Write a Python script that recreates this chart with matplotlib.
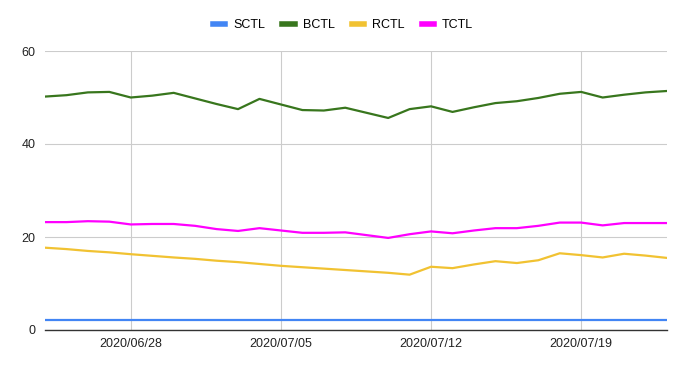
import numpy as np
import pandas as pd
import matplotlib
matplotlib.use("Agg")
import matplotlib.pyplot as plt
import matplotlib.dates as mdates
from matplotlib.lines import Line2D

plt.rcParams['font.family'] = ['Liberation Sans', 'DejaVu Sans']

# daily values 2020/06/24 .. 2020/07/23
dates = pd.date_range("2020-06-24", "2020-07-23", freq="D")

sctl = [2.1] * 30
bctl = [50.2, 50.5, 51.1, 51.2, 50.0, 50.4, 51.0, 49.8, 48.6, 47.5,
        49.7, 48.5, 47.3, 47.2, 47.8, 46.7, 45.6, 47.5, 48.1, 46.9,
        47.9, 48.8, 49.2, 49.9, 50.8, 51.2, 50.0, 50.6, 51.1, 51.4]
rctl = [17.7, 17.4, 17.0, 16.7, 16.3, 15.95, 15.6, 15.3, 14.9, 14.6,
        14.2, 13.8, 13.5, 13.2, 12.9, 12.6, 12.3, 11.9, 13.6, 13.3,
        14.1, 14.8, 14.4, 15.0, 16.5, 16.1, 15.6, 16.4, 16.0, 15.5]
tctl = [23.2, 23.2, 23.4, 23.3, 22.7, 22.8, 22.8, 22.4, 21.7, 21.3,
        21.9, 21.4, 20.9, 20.9, 21.0, 20.4, 19.8, 20.6, 21.2, 20.8,
        21.4, 21.9, 21.9, 22.4, 23.1, 23.1, 22.5, 23.0, 23.0, 23.0]

series = [("SCTL", sctl, "#4285F4"), ("BCTL", bctl, "#38761D"),
          ("RCTL", rctl, "#F1C232"), ("TCTL", tctl, "#FF00FF")]

fig = plt.figure(figsize=(6.86, 3.69), dpi=100)
ax = fig.add_axes([45 / 686, 1 - 330 / 369, 622 / 686, 279 / 369])

for name, vals, col in series:
    ax.plot(dates, vals, color=col, lw=1.6, solid_joinstyle='round')

ax.set_xlim(dates[0], dates[-1])
ax.set_ylim(0, 60)
ax.set_yticks([0, 20, 40, 60])
ticks = pd.to_datetime(["2020-06-28", "2020-07-05", "2020-07-12", "2020-07-19"])
ax.set_xticks(ticks)
ax.xaxis.set_major_formatter(mdates.DateFormatter("%Y/%m/%d"))

ax.grid(True, color="#cccccc", lw=0.8)
ax.set_axisbelow(True)
for s in ["top", "right", "left"]:
    ax.spines[s].set_visible(False)
ax.spines["bottom"].set_color("#333333")
ax.spines["bottom"].set_linewidth(1)
ax.tick_params(length=0, labelsize=9, colors="#222222", pad=7)
ax.tick_params(axis='x', pad=6)

handles = [Line2D([], [], color=c, lw=4) for _, _, c in series]
fig.legend(handles, [n for n, _, _ in series], loc="center", bbox_to_anchor=(0.5, 1 - 25 / 369),
           ncol=4, frameon=False, fontsize=9, handlelength=1.0, columnspacing=1.35, handletextpad=0.65)

fig.savefig("out.png", dpi=100)
